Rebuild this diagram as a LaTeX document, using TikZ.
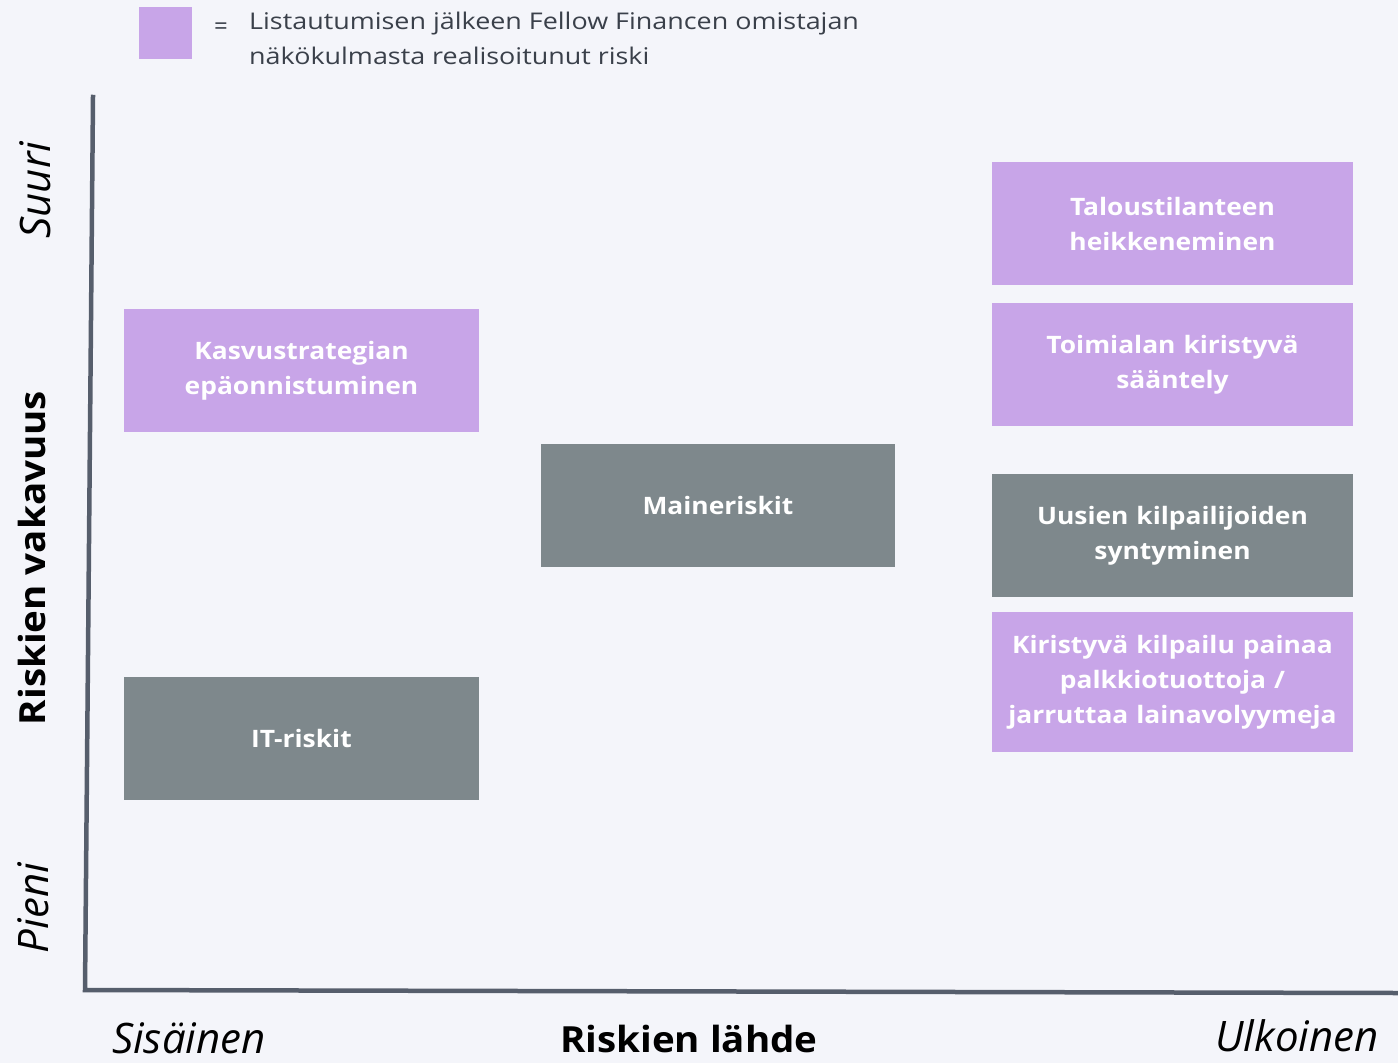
\documentclass[tikz,border=0pt]{standalone}
\usepackage{fontspec}
\setmainfont{Open Sans}
\newfontfamily\boxfont[FakeStretch=1.10]{Open Sans}
\newfontfamily\legfont[FakeStretch=1.17]{Open Sans}
\newfontfamily\axfont[FakeStretch=1.07]{Open Sans}
\definecolor{bg}{HTML}{F4F5FA}
\definecolor{lilac}{HTML}{C8A5E8}
\definecolor{slate}{HTML}{7E888C}
\definecolor{axis}{HTML}{565E6C}
\definecolor{ink}{HTML}{3A404A}
\tikzset{
  riskbox/.style={minimum width=#1, minimum height=123pt, inner sep=0pt, text=white,
    font=\boxfont\fontsize{24}{35}\selectfont\bfseries, align=center, text width=#1-10pt},
  purplebox/.style={riskbox=#1, fill=lilac},
  graybox/.style={riskbox=#1, fill=slate},
  axislbl/.style={font=\axfont\fontsize{36}{40}\selectfont\bfseries, text=black, inner sep=0pt},
  endlbl/.style={font=\fontsize{42}{44}\selectfont\itshape, text=black, inner sep=0pt},
  axisline/.style={draw=axis, line width=4.5pt, line cap=rect}
}
\begin{document}
\begin{tikzpicture}[x=1pt,y=-1pt]
\fill[bg] (0,0) rectangle (1398,1063);
\useasboundingbox (0,0) rectangle (1398,1063);
% legend
\node[fill=lilac, minimum width=53pt, minimum height=52pt, inner sep=0pt] (legsq) at (165.5,33) {};
\node[text=ink, font=\fontsize{24}{24}\selectfont, inner sep=0pt] (legeq) at (221,29) {=};
\node[anchor=north west, text=ink, font=\legfont\fontsize{23}{35}\selectfont, align=left, inner sep=0pt] (legtxt) at (249,12) {Listautumisen jälkeen Fellow Financen omistajan\\näkökulmasta realisoitunut riski};
% axes
\coordinate (ytop) at (93,97);
\coordinate (origin) at (85,990);
\coordinate (xend) at (1398,993);
\draw[axisline] (ytop) -- (origin) -- (xend);
% axis labels
\node[axislbl, rotate=90] (ylab) at (32,558) {Riskien vakavuus};
\node[endlbl, rotate=90] (ysuuri) at (35,190) {Suuri};
\node[endlbl, rotate=90] (ypieni) at (33,908) {Pieni};
\node[axislbl] (xlab) at (689,1039) {Riskien lähde};
\node[endlbl] (xsis) at (189,1038) {Sisäinen};
\node[endlbl] (xulk) at (1297,1036) {Ulkoinen};
% boxes
\node[purplebox=361pt] (talous) at (1172.5,223.5) {Taloustilanteen\\heikkeneminen};
\node[purplebox=361pt] (toimiala) at (1172.5,364.5) {Toimialan kiristyvä\\sääntely};
\node[graybox=361pt] (uusien) at (1172.5,535.5) {Uusien kilpailijoiden\\syntyminen};
\node[purplebox=361pt, minimum height=140pt] (kiristyva) at (1172.5,682) {Kiristyvä kilpailu painaa\\palkkiotuottoja /\\jarruttaa lainavolyymeja};
\node[purplebox=355pt] (kasvu) at (301.5,370.5) {Kasvustrategian\\epäonnistuminen};
\node[graybox=354pt] (maine) at (718,505.5) {Maineriskit};
\node[graybox=355pt] (it) at (301.5,738.5) {IT-riskit};
\end{tikzpicture}
\end{document}
